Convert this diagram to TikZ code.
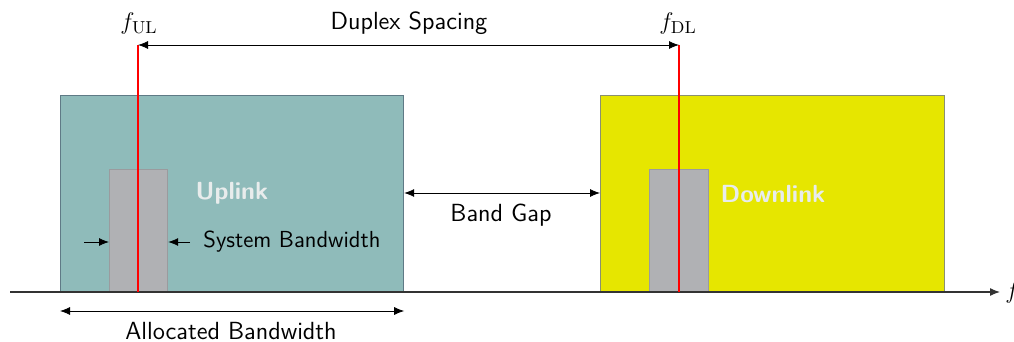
\documentclass[tikz,border=0pt]{standalone}
\usepackage{fontspec}
\usetikzlibrary{arrows.meta}
\definecolor{ulfill}{HTML}{8FBBBA}
\definecolor{ulline}{HTML}{5F7A86}
\definecolor{dlfill}{HTML}{E6E600}
\definecolor{dlline}{HTML}{8A9070}
\definecolor{sbfill}{HTML}{B0B1B4}
\definecolor{sbline}{HTML}{9A9B9E}
\definecolor{lbl}{HTML}{E8ECEC}
\newcommand{\bigfs}{\fontsize{12.4pt}{15pt}\selectfont}
\newcommand{\midfs}{\fontsize{11.6pt}{14pt}\selectfont}
\begin{document}
\begin{tikzpicture}[x=0.5pt,y=-0.5pt,
  tip/.style={-{Latex[length=5pt,width=4pt]}},
  dtip/.style={{Latex[length=5pt,width=4pt]}-{Latex[length=5pt,width=4pt]}},
  txt/.style={font=\bigfs\sffamily, inner sep=0pt},
  mtxt/.style={font=\bigfs, inner sep=0pt},
  band/.style={draw, line width=0.6pt},
  redline/.style={draw=red, line width=0.8pt}]
\useasboundingbox (0,0) rectangle (1014,342);
% bands
\node[band, fill=ulfill, draw=ulline, minimum width=343*0.5pt, minimum height=197*0.5pt, inner sep=0pt, anchor=north west] (ul) at (60,95) {};
\node[band, fill=dlfill, draw=dlline, minimum width=344*0.5pt, minimum height=197*0.5pt, inner sep=0pt, anchor=north west] (dl) at (600,95) {};
\node[band, fill=sbfill, draw=sbline, minimum width=58*0.5pt, minimum height=123*0.5pt, inner sep=0pt, anchor=north west] (sbu) at (109,169) {};
\node[band, fill=sbfill, draw=sbline, minimum width=59*0.5pt, minimum height=123*0.5pt, inner sep=0pt, anchor=north west] (sbd) at (649,169) {};
% axis
\coordinate (ax0) at (10,292);
\coordinate (ax1) at (1000,292);
\draw[tip, line width=0.6pt, draw=black!80] (ax0) -- (ax1);
\node[mtxt, anchor=west] (f) at (1005,293) {$f$};
% red lines
\coordinate (ultop) at (138,45);
\coordinate (ulbot) at (138,292);
\coordinate (dltop) at (679,45);
\coordinate (dlbot) at (679,292);
\draw[redline] (ultop) -- (ulbot);
\draw[redline] (dltop) -- (dlbot);
% labels
\node[mtxt] (ful) at (139,24) {$f_{\mathrm{UL}}$};
\node[mtxt] (fdl) at (678,24) {$f_{\mathrm{DL}}$};
\node[txt] (dup) at (409,23) {Duplex Spacing};
\draw[dtip] (ultop) -- (dltop);
\node[txt, font=\bigfs\sffamily\bfseries, text=lbl] (uplbl) at (232,193) {Uplink};
\node[txt, font=\bigfs\sffamily\bfseries, text=lbl] (dllbl) at (773,194) {Downlink};
% band gap
\draw[dtip] (ul.east |- 0,193) -- (dl.west |- 0,193);
\node[txt] (bg) at (501,215) {Band Gap};
% system bandwidth
\coordinate (sbl) at (84,242);
\coordinate (sbr) at (190,242);
\draw[tip] (sbl) -- (sbu.west |- sbl);
\draw[tip] (sbr) -- (sbu.east |- sbr);
\node[txt, font=\midfs\sffamily, anchor=west] (sbw) at (203,242) {System Bandwidth};
% allocated bandwidth
\draw[dtip] (ul.west |- 0,311) -- (ul.east |- 0,311);
\node[txt] (ab) at (231,331) {Allocated Bandwidth};
\end{tikzpicture}
\end{document}
